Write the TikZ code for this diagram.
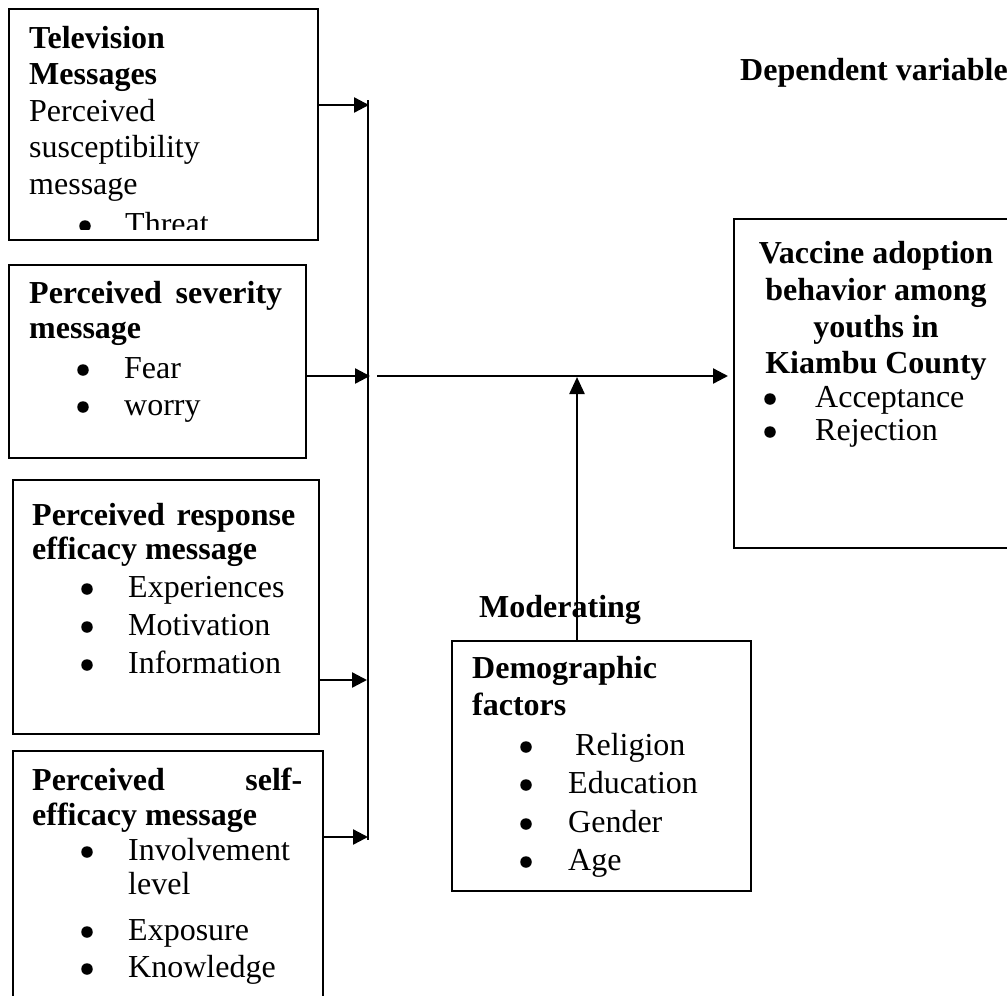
\documentclass[tikz,border=0pt]{standalone}
\usepackage{fontspec}
\setmainfont{Liberation Serif}
\usetikzlibrary{arrows.meta}

\begin{document}
\begin{tikzpicture}[x=1pt,y=-1pt,
  box/.style={draw,line width=1.8pt,inner sep=0,anchor=north west},
  txt/.style={inner sep=0,anchor=base west,font=\fontsize{32}{37}\selectfont},
  hd/.style={inner sep=0,anchor=base west,font=\fontsize{32}{37}\selectfont\bfseries},
  hdc/.style={inner sep=0,anchor=base,font=\fontsize{32}{37}\selectfont\bfseries},
  bul/.style={circle,fill,inner sep=0,minimum size=11.5pt,yshift=8pt},
  bus/.style={line width=2pt},
  arr/.style={line width=2.4pt,-{Triangle[length=15pt,width=15pt]}},
]
\useasboundingbox (0,0) rectangle (1007,996);

% ---------- boxes ----------
\node[box,minimum width=309pt,minimum height=231pt] (tv)   at (8,8) {};
\node[box,minimum width=297pt,minimum height=193pt] (sev)  at (8,264) {};
\node[box,minimum width=306pt,minimum height=254pt] (resp) at (12,479) {};
\node[box,minimum width=310pt,minimum height=260pt] (self) at (12,750) {};
\node[box,minimum width=290pt,minimum height=329pt] (vac)  at (733,218) {};
\node[box,minimum width=299pt,minimum height=250pt] (demo) at (451,640) {};

% ---------- television messages (text cut off at the bottom) ----------
\begin{scope}
  \clip (8,8) rectangle (317,229);
  \node[hd]  (tv1) at (29,48)  {Television};
  \node[hd]  (tv2) at (29,84)  {Messages};
  \node[txt] (tv3) at (29,121) {Perceived};
  \node[txt] (tv4) at (29,157) {susceptibility};
  \node[txt] (tv5) at (29,194) {message};
  \node[bul] (tvb) at (85,234) {};
  \node[txt] (tv6) at (125,234) {Threat};
\end{scope}

% ---------- perceived severity ----------
\node[hd]  (sv1) at (29,303) {\makebox[253pt][s]{Perceived severity}};
\node[hd]  (sv2) at (29,338) {message};
\node[bul] (svb1) at (83,378) {};
\node[txt] (sv3) at (124,378) {Fear};
\node[bul] (svb2) at (83,415) {};
\node[txt] (sv4) at (124,415) {worry};

% ---------- perceived response efficacy ----------
\node[hd]  (rp1) at (32,525) {\makebox[263pt][s]{Perceived response}};
\node[hd]  (rp2) at (32,559) {efficacy message};
\node[bul] (rpb1) at (87,597) {};
\node[txt] (rp3) at (128,597) {Experiences};
\node[bul] (rpb2) at (87,635) {};
\node[txt] (rp4) at (128,635) {Motivation};
\node[bul] (rpb3) at (87,673) {};
\node[txt] (rp5) at (128,673) {Information};

% ---------- perceived self-efficacy ----------
\node[hd]  (sf1) at (32,790) {\makebox[270pt][s]{Perceived self-}};
\node[hd]  (sf2) at (32,825) {efficacy message};
\node[bul] (sfb1) at (87,860) {};
\node[txt] (sf3) at (128,860) {Involvement};
\node[txt] (sf4) at (128,894) {level};
\node[bul] (sfb2) at (87,940) {};
\node[txt] (sf5) at (128,940) {Exposure};
\node[bul] (sfb3) at (87,977) {};
\node[txt] (sf6) at (128,977) {Knowledge};

% ---------- dependent variable ----------
\node[hd]  (dep) at (740,80) {Dependent variable};
\node[hdc] (va1) at (876,263) {Vaccine adoption};
\node[hdc] (va2) at (876,300) {behavior among};
\node[hdc] (va3) at (876,337) {youths in};
\node[hdc] (va4) at (876,373) {Kiambu County};
\node[bul] (vab1) at (770,407) {};
\node[txt] (va5) at (815,407) {Acceptance};
\node[bul] (vab2) at (770,440) {};
\node[txt] (va6) at (815,440) {Rejection};

% ---------- moderating variable ----------
\node[hd]  (mod) at (479,617) {Moderating};
\node[hd]  (dm1) at (472,678) {Demographic};
\node[hd]  (dm2) at (472,715) {factors};
\node[bul] (dmb1) at (526,755) {};
\node[txt] (dm3) at (575,755) {Religion};
\node[bul] (dmb2) at (526,793) {};
\node[txt] (dm4) at (568,793) {Education};
\node[bul] (dmb3) at (526,832) {};
\node[txt] (dm5) at (568,832) {Gender};
\node[bul] (dmb4) at (526,870) {};
\node[txt] (dm6) at (568,870) {Age};

% ---------- connectors ----------
\coordinate (jtop) at (368,100);
\coordinate (jbot) at (368,840);
\coordinate (j1) at (369,105);
\coordinate (j2) at (370,376);
\coordinate (j3) at (367,680);
\coordinate (j4) at (368,837);
\coordinate (jm) at (377,376);
\coordinate (mj) at (577,377);

\draw[bus] (jtop) -- (jbot);
\draw[arr] (tv.east |- j1) -- (j1);
\draw[arr] (sev.east |- j2) -- (j2);
\draw[arr] (resp.east |- j3) -- (j3);
\draw[arr] (self.east |- j4) -- (j4);
\draw[arr,shorten >=5pt] (jm) -- (vac.west |- jm);
\draw[line width=2.4pt,-{Triangle[length=17pt,width=15pt]}] (demo.north -| mj) -- (mj);
\end{tikzpicture}
\end{document}
